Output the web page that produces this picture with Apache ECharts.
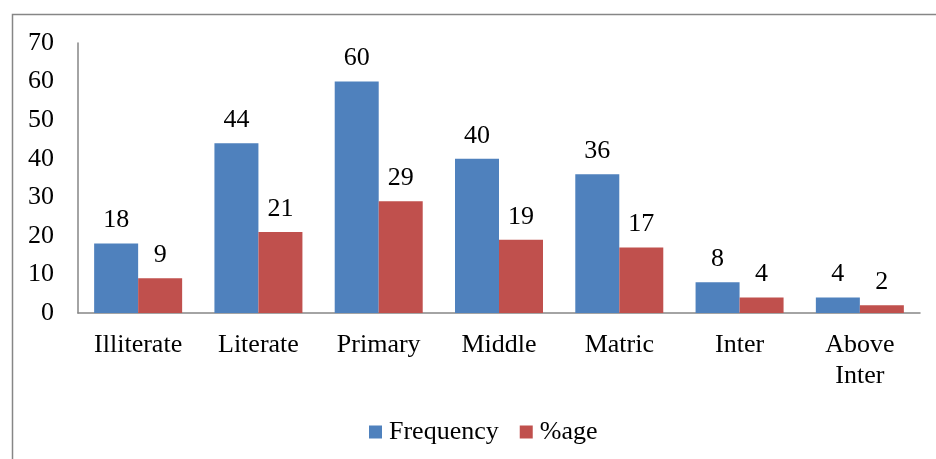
<!DOCTYPE html>
<html>
<head>
<meta charset="utf-8">
<script src="https://cdn.jsdelivr.net/npm/echarts@6/dist/echarts.min.js"></script>
<style>
  html, body { margin: 0; padding: 0; background: #fff; }
  #chart { width: 936px; height: 459px; }
</style>
</head>
<body>
<div id="chart"></div>
<script>
// Education level distribution: counts and their percentage share
const categories = ['Illiterate', 'Literate', 'Primary', 'Middle', 'Matric', 'Inter', 'Above\nInter'];
const frequency = [18, 44, 60, 40, 36, 8, 4];
const percentage = [9, 21, 29, 19, 17, 4, 2];
const yTicks = [0, 10, 20, 30, 40, 50, 60, 70];

const serif = '"Liberation Serif", "Times New Roman", serif';
const fontSize = 26;
const chart = echarts.init(document.getElementById('chart'), null, { renderer: 'canvas' });

const labelStyle = {
  show: true,
  position: 'top',
  distance: 10,
  fontFamily: serif,
  fontSize: fontSize,
  color: '#000'
};

chart.setOption({
  animation: false,
  backgroundColor: '#fff',
  textStyle: { fontFamily: serif },
  graphic: [{
    type: 'rect',
    shape: { x: 12.5, y: 14.5, width: 960, height: 480 },
    style: { fill: 'none', stroke: '#868686', lineWidth: 1.5 },
    silent: true,
    z: -1
  }],
  grid: { left: 78, right: 16, top: 43, bottom: 146, containLabel: false },
  legend: {
    top: 414,
    left: 364,
    itemWidth: 13,
    itemHeight: 13,
    itemGap: 21,
    icon: 'rect',
    textStyle: { fontFamily: serif, fontSize: fontSize, color: '#000', padding: [0, 0, 0, 2] },
    data: ['Frequency', '%age']
  },
  xAxis: {
    type: 'category',
    data: categories,
    axisLine: { lineStyle: { color: '#868686', width: 1.5 } },
    axisTick: { show: false },
    axisLabel: {
      interval: 0,
      margin: 17,
      fontFamily: serif,
      fontSize: fontSize,
      color: '#000',
      lineHeight: 31
    }
  },
  yAxis: {
    type: 'value',
    min: yTicks[0],
    max: yTicks[yTicks.length - 1],
    interval: 10,
    splitLine: { show: false },
    axisLine: { show: true, lineStyle: { color: '#868686', width: 1.5 } },
    axisTick: { show: false },
    axisLabel: {
      margin: 24,
      fontFamily: serif,
      fontSize: fontSize,
      color: '#000'
    }
  },
  series: [
    {
      name: 'Frequency',
      type: 'bar',
      data: frequency,
      barWidth: 44,
      barGap: '0%',
      itemStyle: { color: '#4F81BD' },
      label: labelStyle
    },
    {
      name: '%age',
      type: 'bar',
      data: percentage,
      barWidth: 44,
      barGap: '0%',
      itemStyle: { color: '#C0504D' },
      label: labelStyle
    }
  ]
});
</script>
</body>
</html>
